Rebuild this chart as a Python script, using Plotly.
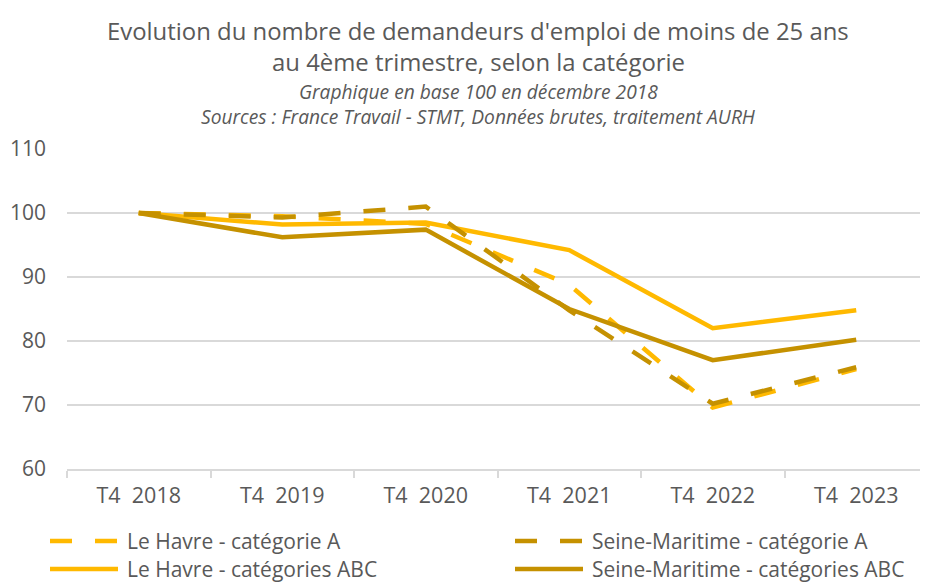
import plotly.graph_objects as go

categories = ["T4  2018", "T4  2019", "T4  2020", "T4  2021", "T4  2022", "T4  2023"]
le_havre_a = [100, 99.5, 98.3, 88.8, 69.6, 75.6]
le_havre_abc = [100, 98.2, 98.5, 94.2, 82.0, 84.8]
seine_maritime_a = [100, 99.3, 101.0, 84.8, 70.2, 75.9]
seine_maritime_abc = [100, 96.2, 97.4, 85.0, 77.0, 80.2]
y_ticks = [60, 70, 80, 90, 100, 110]

series_names = [
    "Le Havre - catégorie A",
    "Le Havre - catégories ABC",
    "Seine-Maritime - catégorie A",
    "Seine-Maritime - catégories ABC",
]

LIGHT = "#FFB900"
DARK = "#C59100"
GRAY = "#595959"
GRID = "#D9D9D9"
DASH = "22px,23px"
LW = 4.5

# page has an 8px body margin: figure drawn at page offset (8, 8)
OFF = 8
FW, FH = 928 - OFF, 585 - OFF
# plot area in page pixels: x 67..928, y 149..469
PL, PR, PT, PB = 67, 928, 149, 469
L, T = PL - OFF, PT - OFF
R, B = FW - (PR - OFF), FH - (PB - OFF)
PW, PH = PR - PL, PB - PT


def px(p):
    return (p - PL) / PW


def py(p):
    return (PB - p) / PH


series = [
    (le_havre_a, LIGHT, DASH),
    (le_havre_abc, LIGHT, "solid"),
    (seine_maritime_a, DARK, DASH),
    (seine_maritime_abc, DARK, "solid"),
]

fig = go.Figure()
for name, (vals, col, dash) in zip(series_names, series):
    fig.add_trace(go.Scatter(x=categories, y=vals, mode="lines", name=name,
                             line=dict(color=col, width=LW, dash=dash),
                             showlegend=False))

title_lines = [
    ("Evolution du nombre de demandeurs d'emploi de moins de 25 ans", 30, 23.9, False),
    ("au 4ème trimestre, selon la catégorie", 62, 23.9, False),
    ("Graphique en base 100 en décembre 2018", 91, 19.2, True),
    ("Sources : France Travail - STMT, Données brutes, traitement AURH", 117, 19.2, True),
]
annotations = []
for text, yp, size, ital in title_lines:
    annotations.append(dict(
        text=f"<i>{text}</i>" if ital else text,
        x=px(478), y=py(yp), xref="paper", yref="paper",
        xanchor="center", yanchor="middle", showarrow=False,
        font=dict(family="Open Sans", size=size, color=GRAY),
    ))

# custom legend (2 x 2), matching the reference's long line samples
legend_pos = [
    (50, 541),   # Le Havre A
    (50, 569),   # Le Havre ABC
    (515, 541),  # Seine-Maritime A
    (515, 569),  # Seine-Maritime ABC
]
shapes = []
for name, (vals, col, dash), (lx, ly) in zip(series_names, series, legend_pos):
    shapes.append(dict(type="line", xref="paper", yref="paper",
                       x0=px(lx), x1=px(lx + 68), y0=py(ly), y1=py(ly),
                       line=dict(color=col, width=LW, dash=dash)))
    annotations.append(dict(
        text=name, x=px(lx + 75), y=py(ly), xref="paper", yref="paper",
        xanchor="left", yanchor="middle", showarrow=False,
        font=dict(family="Open Sans", size=21, color=GRAY),
    ))

fig.update_layout(
    width=FW, height=FH,
    margin=dict(l=L, r=R, t=T, b=B, autoexpand=False),
    paper_bgcolor="white", plot_bgcolor="white",
    annotations=annotations, shapes=shapes,
    showlegend=False,
    xaxis=dict(
        type="category", showgrid=False, showline=True, linecolor=GRID, linewidth=1.5,
        ticks="outside", tickson="boundaries", ticklen=7, tickcolor=GRID, tickwidth=1.5,
        tickfont=dict(family="Open Sans", size=21.5, color=GRAY), range=[-0.5, 5.5],
        ticklabelstandoff=6,
    ),
    yaxis=dict(
        range=[60, 110], tickvals=y_ticks, showgrid=True,
        gridcolor=GRID, gridwidth=1.5, zeroline=False, showline=False,
        ticks="", ticklabelstandoff=20,
        tickfont=dict(family="Open Sans", size=21, color=GRAY),
    ),
)

fig.write_html("out.html")
